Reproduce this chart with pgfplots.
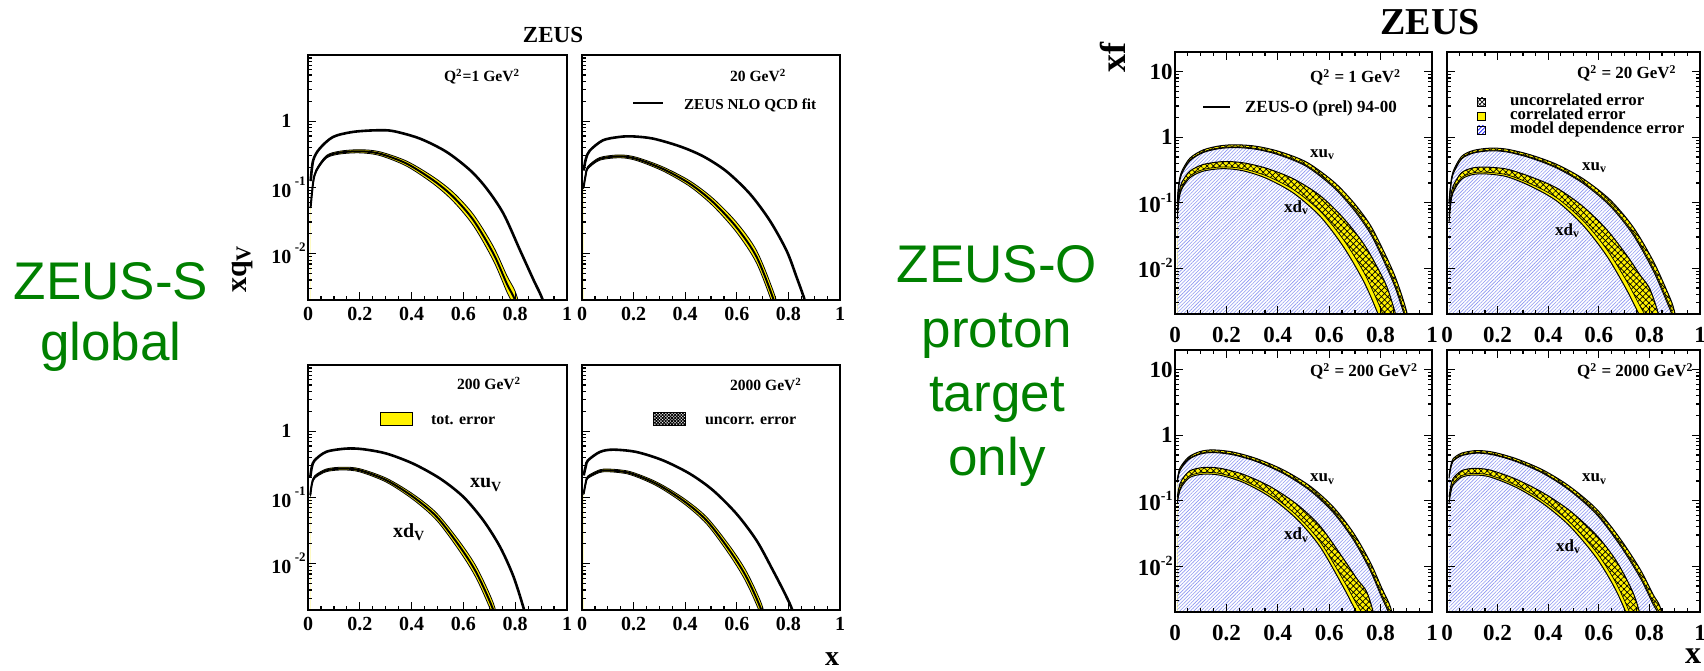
\documentclass[border=0pt]{standalone}
\usepackage{pgfplots}
\pgfplotsset{compat=1.18}
\usepackage{pgfplotstable}
\usetikzlibrary{patterns.meta}
\usepackage{fontspec}
\setmainfont{Liberation Serif}
\newfontfamily\arialfont{Liberation Sans}
\definecolor{zgreen}{RGB}{0,128,0}
\definecolor{hatchblue}{RGB}{140,150,242}
\newcommand{\fs}[1]{\fontsize{#1}{#1}\selectfont}

% ---------------- ZEUS-S (left) ----------------
\pgfplotstableread{
x c
0.0103 0.125
0.02 0.257
0.045 0.386
0.097 0.58
0.174 0.69
0.265 0.73
0.329 0.71
0.432 0.547
0.535 0.344
0.626 0.182
0.690 0.096
0.755 0.040
0.819 0.0112
0.871 0.0040
0.907 0.00197
0.93 0.0008
}\PoneU
\pgfplotstableread{
x lo c hi
0.0103 0.0487 0.051 0.0534
0.02 0.1146 0.12 0.1256
0.032 0.172 0.18 0.188
0.071 0.277 0.29 0.304
0.123 0.320 0.336 0.353
0.2 0.333 0.352 0.372
0.277 0.304 0.324 0.346
0.381 0.2095 0.229 0.250
0.484 0.1135 0.128 0.1444
0.561 0.0616 0.072 0.0841
0.639 0.0263 0.032 0.0389
0.716 0.00782 0.010 0.01279
0.768 0.00264 0.0035 0.00465
0.8 0.00145 0.00197 0.00269
0.83 0.00057 0.0008 0.00112
}\PoneD
\pgfplotstableread{
x c
0.0065 0.18
0.015 0.27
0.030 0.36
0.081 0.515
0.146 0.58
0.198 0.59
0.276 0.546
0.379 0.418
0.47 0.295
0.56 0.175
0.651 0.080
0.728 0.0316
0.793 0.0111
0.832 0.0044
0.864 0.00195
0.89 0.0008
}\PtwoU
\pgfplotstableread{
x lo c hi
0.006 0.0955 0.10 0.1047
0.015 0.1528 0.16 0.1675
0.023 0.191 0.20 0.2094
0.069 0.2576 0.27 0.283
0.146 0.2807 0.295 0.310
0.211 0.2554 0.27 0.2854
0.314 0.1769 0.19 0.2041
0.418 0.1034 0.114 0.1257
0.508 0.0526 0.060 0.0684
0.599 0.0210 0.025 0.02975
0.677 0.00714 0.0089 0.01109
0.744 0.001494 0.00195 0.002545
0.77 0.00060 0.0008 0.00106
}\PtwoD
\pgfplotstableread{
x c
0.009 0.204
0.015 0.29
0.026 0.365
0.071 0.49
0.148 0.547
0.213 0.535
0.303 0.46
0.406 0.324
0.51 0.193
0.6 0.102
0.677 0.045
0.742 0.0178
0.794 0.0063
0.835 0.00197
0.86 0.0008
}\PthreeU
\pgfplotstableread{
x lo c hi
0.009 0.1032 0.108 0.1131
0.015 0.1528 0.16 0.1675
0.026 0.1948 0.204 0.2136
0.071 0.2452 0.257 0.2693
0.135 0.2599 0.273 0.2868
0.2 0.2434 0.257 0.2713
0.303 0.1698 0.182 0.1950
0.406 0.0928 0.102 0.1121
0.497 0.04495 0.051 0.05786
0.587 0.01513 0.0179 0.02117
0.652 0.00579 0.0071 0.00871
0.716 0.00154 0.00197 0.00252
0.74 0.000615 0.0008 0.00104
}\PthreeD
\pgfplotstableread{
x c
0.0065 0.215
0.015 0.30
0.023 0.363
0.069 0.486
0.12 0.527
0.211 0.486
0.314 0.363
0.418 0.228
0.508 0.128
0.599 0.0566
0.677 0.0223
0.741 0.0078
0.787 0.0035
0.816 0.00195
0.84 0.0008
}\PfourU
\pgfplotstableread{
x lo c hi
0.0065 0.1089 0.114 0.1194
0.015 0.1624 0.17 0.178
0.023 0.1939 0.203 0.2125
0.069 0.2385 0.25 0.262
0.107 0.244 0.256 0.2685
0.185 0.222 0.234 0.2467
0.288 0.1506 0.161 0.1721
0.392 0.0822 0.090 0.0985
0.483 0.0398 0.0449 0.05065
0.573 0.01337 0.0157 0.01843
0.638 0.0051 0.0062 0.00754
0.696 0.001546 0.00195 0.00246
0.72 0.000624 0.0008 0.001026
}\PfourD

% ---------------- ZEUS-O (right) ----------------
\pgfplotstableread{
x lo ilo c hi
0.009 0.0955 0.0977 0.10 0.1047
0.015 0.1815 0.1857 0.19 0.1989
0.026 0.2731 0.2795 0.286 0.2995
0.058 0.4364 0.4466 0.457 0.4785
0.11 0.5843 0.5980 0.612 0.6410
0.175 0.6725 0.6885 0.705 0.7391
0.24 0.6949 0.7123 0.73 0.7669
0.318 0.6522 0.6698 0.688 0.7258
0.409 0.5302 0.5468 0.564 0.6000
0.513 0.3555 0.3695 0.384 0.4148
0.617 0.1719 0.1807 0.19 0.2100
0.695 0.07866 0.08367 0.089 0.1007
0.76 0.03392 0.03651 0.0393 0.04554
0.812 0.0130 0.01415 0.0154 0.01824
0.857 0.005039 0.005544 0.0061 0.007384
0.896 0.0017 0.001889 0.0021 0.002595
0.93 0.000476 0.000535 0.0006 0.000756
}\PfiveU
\pgfplotstableread{
x lo ilo c hi
0.009 0.05615 0.05947 0.063 0.07069
0.015 0.1070 0.1133 0.12 0.1346
0.026 0.1604 0.1699 0.18 0.2020
0.058 0.2406 0.2549 0.27 0.3030
0.11 0.3034 0.3216 0.341 0.3833
0.188 0.3312 0.3524 0.375 0.4247
0.266 0.3066 0.3290 0.353 0.4065
0.357 0.2343 0.2562 0.28 0.3346
0.461 0.1401 0.1588 0.18 0.2313
0.565 0.06183 0.07418 0.089 0.1281
0.656 0.02106 0.02711 0.0349 0.05783
0.734 0.006297 0.008765 0.0122 0.02364
0.786 0.002187 0.003240 0.0048 0.01053
0.825 0.000862 0.001345 0.0021 0.005117
0.86 0.000259 0.000426 0.0007 0.001891
0.88 0.000104 0.000177 0.0003 0.000863
}\PfiveD
\pgfplotstableread{
x lo ilo c hi
0.008 0.0955 0.0977 0.10 0.1047
0.015 0.1815 0.1857 0.19 0.1989
0.024 0.2731 0.2795 0.286 0.2995
0.057 0.4622 0.4730 0.484 0.5068
0.103 0.5709 0.5843 0.598 0.6263
0.169 0.6191 0.6338 0.649 0.6803
0.235 0.5970 0.6118 0.627 0.6585
0.327 0.4869 0.5002 0.514 0.5426
0.433 0.3393 0.3505 0.362 0.3862
0.538 0.1972 0.2054 0.214 0.2323
0.644 0.0898 0.0948 0.10 0.1114
0.736 0.03223 0.03453 0.037 0.04247
0.815 0.009189 0.01001 0.0109 0.01293
0.868 0.003122 0.003444 0.0038 0.004626
0.894 0.001701 0.00189 0.0021 0.002592
0.92 0.000639 0.000715 0.0008 0.001002
}\PsixU
\pgfplotstableread{
x lo ilo c hi
0.008 0.04991 0.05287 0.056 0.06283
0.015 0.09804 0.1038 0.11 0.1234
0.024 0.1426 0.1510 0.16 0.1795
0.057 0.2272 0.2407 0.255 0.2862
0.103 0.2697 0.2858 0.303 0.3405
0.156 0.2749 0.2919 0.31 0.3496
0.235 0.2504 0.2676 0.286 0.3267
0.327 0.1817 0.1972 0.214 0.2520
0.433 0.1067 0.1196 0.134 0.1682
0.538 0.04507 0.05316 0.0627 0.08723
0.631 0.0155 0.01953 0.0246 0.03904
0.71 0.004676 0.006341 0.0086 0.01582
0.763 0.001833 0.002639 0.0038 0.007877
0.802 0.000918 0.001388 0.0021 0.004805
0.84 0.000275 0.000439 0.0007 0.001781
0.86 0.000111 0.000183 0.0003 0.000811
}\PsixD
\pgfplotstableread{
x lo ilo c hi
0.009 0.1910 0.1954 0.2 0.2094
0.019 0.2865 0.2932 0.3 0.3141
0.052 0.4212 0.4310 0.441 0.4618
0.097 0.5137 0.5257 0.538 0.5635
0.149 0.5439 0.5568 0.57 0.5973
0.227 0.5010 0.5133 0.526 0.5523
0.318 0.3944 0.4050 0.416 0.4388
0.422 0.2600 0.2684 0.277 0.2951
0.526 0.1422 0.1480 0.154 0.1668
0.617 0.06514 0.06849 0.072 0.07958
0.695 0.02501 0.02661 0.0283 0.03202
0.76 0.008544 0.009197 0.0099 0.01147
0.805 0.003303 0.003589 0.0039 0.004605
0.838 0.001668 0.001826 0.002 0.002398
0.86 0.00066 0.000727 0.0008 0.00097
}\PsevenU
\pgfplotstableread{
x lo ilo c hi
0.009 0.09091 0.09629 0.102 0.1144
0.015 0.1248 0.1322 0.14 0.1571
0.026 0.164 0.1737 0.184 0.2064
0.058 0.2272 0.2407 0.255 0.2862
0.11 0.2544 0.2698 0.286 0.3215
0.175 0.2451 0.2605 0.277 0.3131
0.266 0.1902 0.2041 0.219 0.2522
0.37 0.1138 0.1249 0.137 0.1649
0.474 0.05232 0.05965 0.068 0.08838
0.565 0.01966 0.02359 0.0283 0.04074
0.656 0.004708 0.00606 0.0078 0.01292
0.708 0.001911 0.002586 0.0035 0.00641
0.747 0.001002 0.001416 0.002 0.003991
0.78 0.000324 0.000476 0.0007 0.001513
0.80 0.000132 0.000199 0.0003 0.000683
}\PsevenD
\pgfplotstableread{
x lo ilo c hi
0.008 0.2197 0.2248 0.23 0.2408
0.015 0.3152 0.3225 0.33 0.3455
0.024 0.3982 0.4075 0.417 0.4366
0.057 0.4852 0.4964 0.508 0.5319
0.116 0.5317 0.5442 0.557 0.5835
0.182 0.5016 0.5137 0.526 0.5516
0.274 0.3954 0.4056 0.416 0.4377
0.38 0.2612 0.2690 0.277 0.2938
0.485 0.1433 0.1485 0.154 0.1656
0.591 0.06193 0.06489 0.068 0.07467
0.683 0.02112 0.02242 0.0238 0.02682
0.763 0.006724 0.007242 0.0078 0.009049
0.815 0.002613 0.002846 0.0031 0.003677
0.842 0.001665 0.001825 0.002 0.002403
0.865 0.000658 0.000726 0.0008 0.000972
}\PeightU
\pgfplotstableread{
x lo ilo c hi
0.008 0.09091 0.09629 0.102 0.1144
0.015 0.1337 0.1416 0.15 0.1683
0.024 0.1738 0.1841 0.195 0.2188
0.057 0.2272 0.2407 0.255 0.2862
0.103 0.2465 0.2613 0.277 0.3112
0.169 0.2311 0.2456 0.261 0.2948
0.274 0.1594 0.1713 0.184 0.2124
0.38 0.09005 0.09907 0.109 0.1319
0.485 0.04096 0.04694 0.0538 0.07067
0.591 0.01334 0.01629 0.0199 0.0297
0.67 0.004117 0.005368 0.007 0.0119
0.736 0.001028 0.001434 0.002 0.003893
0.77 0.000332 0.000482 0.0007 0.001476
0.79 0.000135 0.000201 0.0003 0.000665
}\PeightD

\pgfplotsset{
  myaxbase/.style={scale only axis, anchor=south west, xmin=0, xmax=1,
    axis on top,
    xtick={0,0.2,0.4,0.6,0.8,1}, xticklabels={0,0.2,0.4,0.6,0.8,1},
    minor x tick num=3, tick align=inside,
    major tick length=4pt, minor tick length=2pt,
    axis line style={line width=0.8pt},
    tick style={black, line width=0.6pt},
    yticklabel style={inner xsep=1pt},
    minor ytick={0.003,0.004,0.005,0.006,0.007,0.008,0.009,0.02,0.03,0.04,0.05,0.06,0.07,0.08,0.09,0.2,0.3,0.4,0.5,0.6,0.7,0.8,0.9,2,3,4,5,6,7,8,9}},
  myaxL/.style={myaxbase, ymin=0.002, ymax=10, height=122.5pt,
    ytick={0.01,0.1,1},
    xtick pos=left, ytick pos=left,
    tick label style={font=\fs{10}\bfseries}},
  myaxR/.style={myaxbase, ymin=0.002, ymax=20, height=131pt,
    ytick={0.01,0.1,1,10},
    tick label style={font=\fs{11.5}\bfseries},
    xticklabel style={yshift=-3pt}},
  Lylab/.style={yticklabels={{10\,\raisebox{6pt}{\fs{6.5}-2}},{10\,\raisebox{6pt}{\fs{6.5}-1}},{1\hphantom{\,\fs{6.5}-1}}}},
  Rylab/.style={yticklabels={{10\raisebox{5pt}{\fs{7}-2}},{10\raisebox{5pt}{\fs{7}-1}},1,10}},
}
\newcommand{\leftcurves}[2]{%
  \addplot[draw=none, fill=yellow, smooth] table[x=x,y=hi]{#2} \closedcycle;
  \addplot[draw=none, fill=white, smooth] table[x=x,y=lo]{#2} \closedcycle;
  \addplot[black, line width=0.4pt, smooth] table[x=x,y=lo]{#2};
  \addplot[black, line width=0.4pt, smooth] table[x=x,y=hi]{#2};
  \addplot[black, line width=1pt, smooth] table[x=x,y=c]{#2};
  \addplot[black, line width=1.3pt, smooth] table[x=x,y=c]{#1};
}
\newcommand{\rband}[1]{%
  \addplot[draw=none, fill=yellow, smooth] table[x=x,y=hi]{#1} \closedcycle;
  \addplot[draw=none, pattern={Hatch[angle=45,distance=2.2pt,line width=0.35pt]}, pattern color=black, smooth] table[x=x,y=hi]{#1} \closedcycle;
  \addplot[draw=none, fill=yellow, smooth] table[x=x,y=ilo]{#1} \closedcycle;
  \addplot[draw=none, fill=white, smooth] table[x=x,y=lo]{#1} \closedcycle;
  \addplot[draw=none, pattern={Lines[angle=45,distance=1.25pt,line width=0.3pt]}, pattern color=hatchblue, smooth] table[x=x,y=lo]{#1} \closedcycle;
}
\newcommand{\rlines}[1]{%
  \addplot[black, line width=0.5pt, smooth] table[x=x,y=lo]{#1};
  \addplot[black, line width=0.35pt, smooth] table[x=x,y=ilo]{#1};
  \addplot[black, line width=0.5pt, smooth] table[x=x,y=hi]{#1};
}
\newcommand{\rightcurves}[2]{%
  \addplot[draw=none, pattern={Lines[angle=45,distance=1.25pt,line width=0.3pt]}, pattern color=hatchblue, smooth] table[x=x,y=hi]{#1} \closedcycle;
  \rband{#1}
  \rband{#2}
  \rlines{#1}
  \rlines{#2}
}

\begin{document}
\begin{tikzpicture}[x=0.5pt,y=0.5pt]
\useasboundingbox (0,0) rectangle (1704,670);

% ===== left group =====
\begin{semilogyaxis}[myaxL, log origin y=infty, at={(154pt,185pt)}, width=129.5pt, Lylab]
\leftcurves{\PoneU}{\PoneD}
\end{semilogyaxis}
\begin{semilogyaxis}[myaxL, log origin y=infty, at={(291pt,185pt)}, width=129pt, yticklabels={,,}]
\leftcurves{\PtwoU}{\PtwoD}
\end{semilogyaxis}
\begin{semilogyaxis}[myaxL, log origin y=infty, at={(154pt,30pt)}, width=129.5pt, Lylab]
\leftcurves{\PthreeU}{\PthreeD}
\end{semilogyaxis}
\begin{semilogyaxis}[myaxL, log origin y=infty, at={(291pt,30pt)}, width=129pt, yticklabels={,,}]
\leftcurves{\PfourU}{\PfourD}
\end{semilogyaxis}

% ===== right group =====
\begin{semilogyaxis}[myaxR, log origin y=infty, at={(587.5pt,178pt)}, width=128.5pt, Rylab]
\rightcurves{\PfiveU}{\PfiveD}
\end{semilogyaxis}
\begin{semilogyaxis}[myaxR, log origin y=infty, at={(723.5pt,178pt)}, width=126.5pt, yticklabels={,,,}]
\rightcurves{\PsixU}{\PsixD}
\end{semilogyaxis}
\begin{semilogyaxis}[myaxR, log origin y=infty, at={(587.5pt,29pt)}, width=128.5pt, Rylab]
\rightcurves{\PsevenU}{\PsevenD}
\end{semilogyaxis}
\begin{semilogyaxis}[myaxR, log origin y=infty, at={(723.5pt,29pt)}, width=126.5pt, yticklabels={,,,}]
\rightcurves{\PeightU}{\PeightD}
\end{semilogyaxis}

% ===== texts: left =====
\node[anchor=base, font=\fs{11.5}\bfseries] at (553,627) {ZEUS};
\node[anchor=base west, rotate=90, font=\fs{15}\bfseries] at (246,370) {xq\textsubscript{V}};
\node[anchor=base, font=\fs{14}\bfseries] at (832,5) {x};
\node[anchor=base west, font=\fs{7.8}\bfseries] at (437,588) {Q\textsuperscript{2}=1 GeV\textsuperscript{2}};
\node[anchor=base west, font=\fs{7.8}\bfseries] at (723,588) {20 GeV\textsuperscript{2}};
\draw[line width=0.8pt] (633,567)--(663,567);
\node[anchor=base west, font=\fs{7.6}\bfseries] at (677,560) {ZEUS NLO QCD fit};
\node[anchor=base west, font=\fs{7.8}\bfseries] at (450,280) {200 GeV\textsuperscript{2}};
\filldraw[fill=yellow, draw=black, line width=0.5pt] (380,244) rectangle (412,257);
\node[anchor=base west, font=\fs{8}\bfseries] at (424,245) {tot. error};
\node[anchor=base west, font=\fs{10}\bfseries] at (463,182) {xu\textsubscript{V}};
\node[anchor=base west, font=\fs{10}\bfseries] at (386,133) {xd\textsubscript{V}};
\node[anchor=base west, font=\fs{7.8}\bfseries] at (723,279) {2000 GeV\textsuperscript{2}};
\draw[line width=0.5pt, pattern={Hatch[angle=45,distance=1.1pt,line width=0.45pt]}] (653,244) rectangle (685,257);
\node[anchor=base west, font=\fs{8}\bfseries] at (698,245) {uncorr. error};

% green texts
\node[anchor=base, font=\arialfont\fs{26.5}, text=zgreen] at (111,370) {ZEUS-S};
\node[anchor=base, font=\arialfont\fs{26.5}, text=zgreen] at (111,309) {global};
\node[anchor=base, font=\arialfont\fs{26.5}, text=zgreen] at (997,387) {ZEUS-O};
\node[anchor=base, font=\arialfont\fs{26.5}, text=zgreen] at (997,322) {proton};
\node[anchor=base, font=\arialfont\fs{26.5}, text=zgreen] at (997,258) {target};
\node[anchor=base, font=\arialfont\fs{26.5}, text=zgreen] at (997,194) {only};

% ===== texts: right =====
\node[anchor=base, font=\fs{19}\bfseries] at (1430,635) {ZEUS};
\node[anchor=base west, rotate=90, font=\fs{18}\bfseries] at (1125,590) {xf};
\node[anchor=base, font=\fs{16}\bfseries] at (1693,7) {x};
\node[anchor=base west, font=\fs{8.5}\bfseries] at (1303,587) {Q\textsuperscript{2} = 1 GeV\textsuperscript{2}};
\draw[line width=0.6pt] (1203,563)--(1230,563);
\node[anchor=base west, font=\fs{8.5}\bfseries] at (1238,557) {ZEUS-O (prel) 94-00};
\node[anchor=base west, font=\fs{8.5}\bfseries] at (1303,512) {xu\textsubscript{v}};
\node[anchor=base west, font=\fs{8.5}\bfseries] at (1277,457) {xd\textsubscript{v}};
\node[anchor=base west, font=\fs{8.5}\bfseries] at (1570,591) {Q\textsuperscript{2} = 20 GeV\textsuperscript{2}};
\draw[line width=0.4pt, pattern={Hatch[angle=45,distance=1.6pt,line width=0.3pt]}] (1477,564) rectangle (1485,572);
\filldraw[fill=yellow, draw=black, line width=0.4pt] (1477,550) rectangle (1485,558);
\draw[line width=0.4pt, pattern={Lines[angle=45,distance=1.4pt,line width=0.35pt]}, pattern color=blue] (1477,536) rectangle (1485,544);
\node[anchor=base west, font=\fs{8.4}\bfseries] at (1503,564) {uncorrelated error};
\node[anchor=base west, font=\fs{8.4}\bfseries] at (1503,550) {correlated error};
\node[anchor=base west, font=\fs{8.4}\bfseries] at (1503,536) {model dependence error};
\node[anchor=base west, font=\fs{8.5}\bfseries] at (1575,499) {xu\textsubscript{v}};
\node[anchor=base west, font=\fs{8.5}\bfseries] at (1548,434) {xd\textsubscript{v}};
\node[anchor=base west, font=\fs{8.5}\bfseries] at (1303,293) {Q\textsuperscript{2} = 200 GeV\textsuperscript{2}};
\node[anchor=base west, font=\fs{8.5}\bfseries] at (1303,188) {xu\textsubscript{v}};
\node[anchor=base west, font=\fs{8.5}\bfseries] at (1277,130) {xd\textsubscript{v}};
\node[anchor=base west, font=\fs{8.5}\bfseries] at (1570,293) {Q\textsuperscript{2} = 2000 GeV\textsuperscript{2}};
\node[anchor=base west, font=\fs{8.5}\bfseries] at (1575,188) {xu\textsubscript{v}};
\node[anchor=base west, font=\fs{8.5}\bfseries] at (1549,119) {xd\textsubscript{v}};
\end{tikzpicture}
\end{document}
